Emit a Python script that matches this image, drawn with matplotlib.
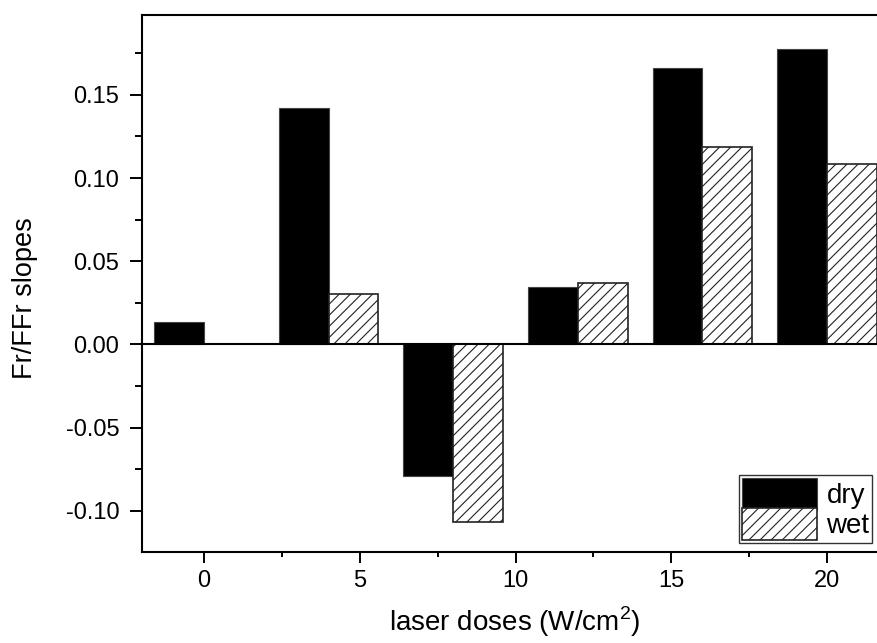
import numpy as np
import matplotlib
matplotlib.use("Agg")
import matplotlib.pyplot as plt
from matplotlib.ticker import MultipleLocator

plt.rcParams['font.family'] = ['Liberation Sans', 'DejaVu Sans']
plt.rcParams['mathtext.fontset'] = 'custom'
plt.rcParams['mathtext.rm'] = 'Liberation Sans'
plt.rcParams['hatch.linewidth'] = 0.8

# data
doses = [0, 4, 8, 12, 16, 20]
dry = [0.0132, 0.1418, -0.0791, 0.0345, 0.1662, 0.1775]
wet = [0.0, 0.0305, -0.1068, 0.0370, 0.1188, 0.1082]
labels = ["dry", "wet"]

barW = 1.6

fig = plt.figure(figsize=(8.78, 6.43), dpi=100)
ax = fig.add_axes([0.1614, 0.1415, 0.8515, 0.8352])

x = np.array(doses, dtype=float)
ax.bar(x - barW / 2, dry, width=barW, color="black", edgecolor="#444444",
       linewidth=0.8, label=labels[0])
ax.bar(x + barW / 2, wet, width=barW, color="white", edgecolor="#222222",
       linewidth=1.2, hatch="///", label=labels[1])
ax.axhline(0, color="black", lw=1.5, zorder=3)

ax.set_xlim(-2, 22)
ax.set_ylim(-0.1248, 0.198)
ax.xaxis.set_major_locator(MultipleLocator(5))
ax.xaxis.set_minor_locator(MultipleLocator(2.5))
ax.yaxis.set_major_locator(MultipleLocator(0.05))
ax.yaxis.set_minor_locator(MultipleLocator(0.025))
ax.yaxis.set_major_formatter(plt.FuncFormatter(lambda v, p: "%.2f" % v))

ax.tick_params(axis="x", which="major", direction="out", length=8, width=1.4, labelsize=17, pad=5)
ax.tick_params(axis="x", which="minor", direction="out", length=3.8, width=1.4)
ax.tick_params(axis="y", which="major", direction="out", length=9, width=1.4, labelsize=17, pad=7)
ax.tick_params(axis="y", which="minor", direction="out", length=4.8, width=1.4)
ax.spines["right"].set_visible(False)
for s in ["left", "bottom", "top"]:
    ax.spines[s].set_linewidth(1.5)

ax.set_xlabel("laser doses (W/cm$^2$)", fontsize=20)
ax.xaxis.label.set_verticalalignment("baseline")
ax.xaxis.set_label_coords(0.4993, -0.148)
ax.set_ylabel("Fr/FFr slopes", fontsize=19.5)
ax.yaxis.set_label_coords(-0.1387, 0.473)

leg = ax.legend(loc="upper left", bbox_to_anchor=(739 / 878, 1 - 475 / 643),
                bbox_transform=fig.transFigure, borderaxespad=0,
                fontsize=20, handlelength=2.7, handleheight=1.4,
                labelspacing=-0.08, borderpad=0.1, handletextpad=0.35,
                fancybox=False, framealpha=1, edgecolor="#333333")
leg.get_frame().set_linewidth(1.0)

fig.savefig("out.png", dpi=100)
